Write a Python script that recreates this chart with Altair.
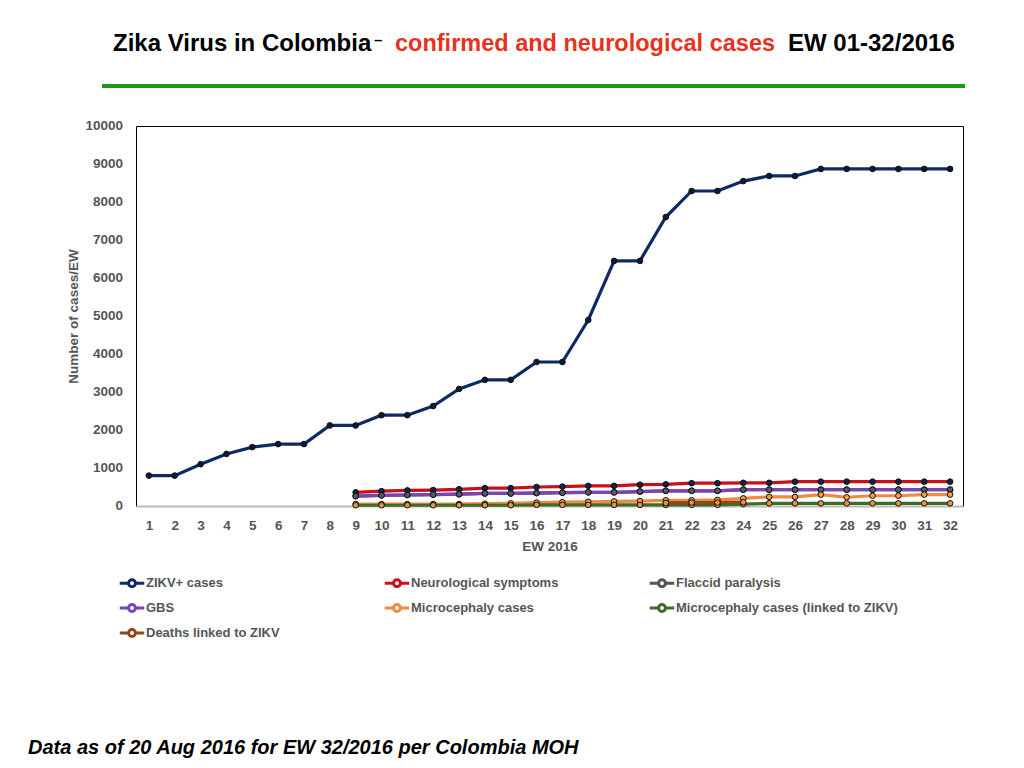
import altair as alt
import pandas as pd

ew = list(range(1, 33))
ew_late = list(range(9, 33))
ew_deaths = [21, 22, 23, 24]

zikv = [800, 800, 1100, 1370, 1550, 1630, 1630, 2120, 2120, 2390, 2390, 2630,
        3080, 3320, 3320, 3790, 3790, 4895, 6450, 6450, 7605, 8290, 8290, 8550,
        8685, 8685, 8870, 8870, 8870, 8870, 8870, 8870]
neuro = [360, 390, 410, 420, 440, 470, 470, 500, 510, 530, 530, 560, 570, 600,
         600, 610, 610, 640, 640, 640, 640, 640, 640, 640]
flaccid = [260, 280, 290, 300, 310, 330, 330, 340, 350, 360, 360, 380, 400, 400,
           400, 430, 430, 430, 430, 430, 430, 430, 430, 430]
gbs = [260, 280, 290, 300, 310, 330, 330, 340, 350, 360, 360, 380, 400, 400,
       400, 430, 430, 430, 430, 430, 430, 430, 430, 430]
micro = [50, 50, 50, 50, 50, 60, 70, 90, 100, 110, 120, 130, 150, 150, 160, 200,
         240, 240, 300, 230, 270, 270, 300, 300]
linked = [20, 20, 20, 20, 20, 20, 20, 30, 30, 30, 30, 30, 30, 30, 30, 50, 70, 70,
          70, 70, 70, 70, 70, 70]
deaths = [80, 90, 90, 100]
y_ticks = [0, 1000, 2000, 3000, 4000, 5000, 6000, 7000, 8000, 9000, 10000]

series = ["ZIKV+ cases", "Neurological symptoms", "Flaccid paralysis", "GBS",
          "Microcephaly cases", "Microcephaly cases (linked to ZIKV)",
          "Deaths linked to ZIKV"]
line_colors = ["#0e2a66", "#c8101a", "#555555", "#7b44b5", "#ef8a3e",
               "#3f6b2b", "#8b4a1c"]
marker_colors = ["#111a33", "#13224d", "#555555", "#5a5a66", "#f0a050",
                 "#e8953e", "#e8953e"]

rows = []
for s, xs, ys in [(series[0], ew, zikv), (series[1], ew_late, neuro),
                  (series[2], ew_late, flaccid), (series[3], ew_late, gbs),
                  (series[4], ew_late, micro), (series[5], ew_late, linked),
                  (series[6], ew_deaths, deaths)]:
    for x, y in zip(xs, ys):
        rows.append({"ew": x, "value": y, "series": s, "order": series.index(s)})
df = pd.DataFrame(rows)
tick_df = pd.DataFrame({"value": y_ticks, "label": [str(v) for v in y_ticks]})

FONT = "Liberation Sans"
GREY = "#555555"

x_enc = alt.X("ew:O", scale=alt.Scale(padding=0.5),
              axis=alt.Axis(title="EW 2016", labelAngle=0, ticks=False,
                            labelPadding=12, domainColor="#bbbbbb",
                            domainWidth=2, titlePadding=8))
y_enc = alt.Y("value:Q", scale=alt.Scale(domain=[0, 10000]),
              axis=alt.Axis(title="Number of cases/EW", labels=False,
                            grid=False, ticks=False, domain=False,
                            titlePadding=56))

legend_path = ("M-1,0H-0.28M0.28,0H1M-0.28,0A0.28,0.28 0 1,0 0.28,0"
               "A0.28,0.28 0 1,0 -0.28,0")

lines = alt.Chart(df).mark_line(strokeWidth=3.2).encode(
    x=x_enc, y=y_enc,
    color=alt.Color("series:N", scale=alt.Scale(domain=series, range=line_colors),
                    legend=alt.Legend(title=None, orient="none", legendX=-18,
                                      legendY=443, columns=3, columnPadding=10,
                                      gridAlign="all",
                                      direction="horizontal", values=series,
                                      rowPadding=1, symbolType=legend_path,
                                      symbolSize=600, symbolStrokeWidth=3,
                                      labelFont=FONT, labelFontSize=13,
                                      labelFontWeight="bold", labelColor=GREY,
                                      labelOffset=0, labelLimit=300)),
    order="order:Q",
)

points = alt.Chart(df).mark_circle(size=32, stroke="#111111", strokeWidth=1,
                                   opacity=1).encode(
    x=x_enc, y=y_enc,
    fill=alt.Fill("series:N", scale=alt.Scale(domain=series, range=marker_colors),
                  legend=None),
)

y_labels = alt.Chart(tick_df).mark_text(
    align="right", baseline="middle", font=FONT, fontSize=13.5, fontWeight="bold",
    color=GREY).encode(
    y=y_enc, x=alt.value(-13), text="label:N")

t1 = alt.Chart(pd.DataFrame({"t": ["Zika Virus in Colombia"]})).mark_text(
    align="left", baseline="middle", font=FONT, fontSize=24, fontWeight="bold",
    color="#000000").encode(text="t:N", x=alt.value(-23), y=alt.value(-82))
t2 = alt.Chart(pd.DataFrame({"t": ["–"]})).mark_text(
    align="left", baseline="middle", font=FONT, fontSize=15, fontWeight="bold",
    color="#000000").encode(text="t:N", x=alt.value(238), y=alt.value(-86))
t3 = alt.Chart(pd.DataFrame({"t": ["confirmed and neurological cases"]})).mark_text(
    align="left", baseline="middle", font=FONT, fontSize=23.5, fontWeight="bold",
    color="#e8321e").encode(text="t:N", x=alt.value(259), y=alt.value(-82))
t4 = alt.Chart(pd.DataFrame({"t": ["EW 01-32/2016"]})).mark_text(
    align="left", baseline="middle", font=FONT, fontSize=24, fontWeight="bold",
    color="#000000").encode(text="t:N", x=alt.value(652), y=alt.value(-82))

green_rule = alt.Chart(pd.DataFrame({"a": [0]})).mark_rule(
    color="#1a9a1a", strokeWidth=4).encode(
    x=alt.value(-34), x2=alt.value(829), y=alt.value(-40))

foot = alt.Chart(pd.DataFrame({"t": ["Data as of 20 Aug 2016 for EW 32/2016 per Colombia MOH"]})).mark_text(
    align="left", baseline="middle", font=FONT, fontSize=20, fontWeight="bold",
    fontStyle="italic", color="#000000").encode(
    text="t:N", x=alt.value(-108), y=alt.value(622))

chart = alt.layer(lines, points, y_labels, t1, t2, t3, t4, green_rule, foot).resolve_scale(
    color="independent", fill="independent"
).properties(
    width=827, height=380,
    autosize=alt.AutoSizeParams(type="none"),
    padding={"left": 128, "top": 118, "right": 45, "bottom": 254},
).configure_view(
    stroke="#000000", strokeWidth=1
).configure_axis(
    labelFont=FONT, labelFontSize=13.5, labelFontWeight="bold", labelColor=GREY,
    titleFont=FONT, titleFontSize=13.5, titleFontWeight="bold", titleColor=GREY,
)

chart.save("out.html", embed_options={"renderer": "svg", "actions": False})
